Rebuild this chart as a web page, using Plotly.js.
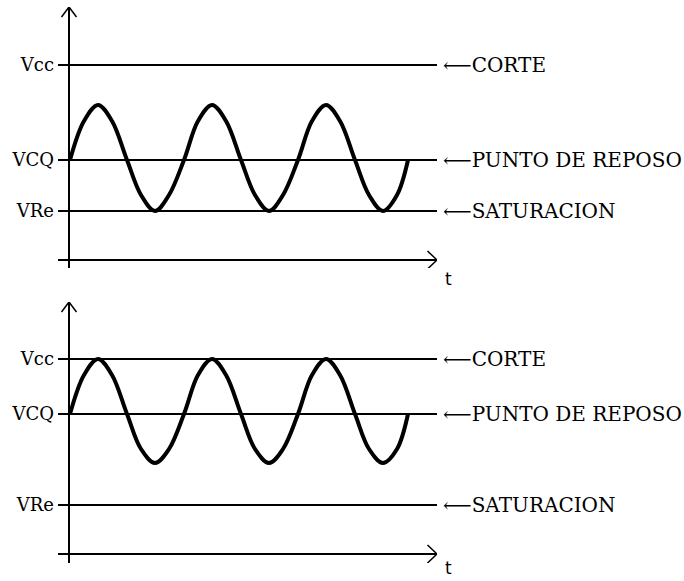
<!DOCTYPE html>
<html>
<head>
<meta charset="utf-8">
<script src="https://cdn.plot.ly/plotly-3.0.1.min.js"></script>
<style>html,body{margin:0;padding:0;background:#fff;}#chart{width:684px;height:581px;}</style>
</head>
<body>
<div id="chart"></div>
<script>
// ---- data (units: tenths of the drawing's pixel scale) ----
const levelLabels   = ['Vcc', 'VCQ', 'VRe'];
const stateLabels   = ['CORTE', 'PUNTO DE REPOSO', 'SATURACION'];
const topLevels     = [19.5, 10.0, 4.9];
const bottomLevels  = [19.5, 14.0, 4.9];
const waveT         = [0.1, 1.5, 2.9, 4.3, 5.8, 7.2, 8.6, 10.0, 11.5, 12.9, 14.3, 15.7, 17.2,
                       18.6, 20.0, 21.4, 22.9, 24.3, 25.7, 27.1, 28.6, 30.0, 31.4, 32.8, 33.9];
const topWave       = [10.0, 13.9, 15.5, 13.9, 10.0, 6.5, 4.9, 6.5, 10.0, 13.9, 15.5, 13.9, 10.0,
                       6.5, 4.9, 6.5, 10.0, 13.9, 15.5, 13.9, 10.0, 6.5, 4.9, 6.5, 10.0];
const bottomWave    = [14.0, 17.9, 19.5, 17.9, 14.0, 10.5, 9.1, 10.5, 14.0, 17.9, 19.5, 17.9, 14.0,
                       10.5, 9.1, 10.5, 14.0, 17.9, 19.5, 17.9, 14.0, 10.5, 9.1, 10.5, 14.0];
const timeLabel     = 't';

// ---- layout helpers ----
const W = 684, H = 581;
const serif = 'DejaVu Serif, serif';
const xRange = [-1.1, 36.8];
const xDomain = [58 / W, 437 / W];
const labelX = 441 / W;   // left edge of the state labels (paper fraction)
const tX = 448 / W;       // centre of the "t" label (paper fraction)
const panels = [
  {levels: topLevels,    wave: topWave,    yDomain: [(H - 268) / H, (H - 7) / H],   yRange: [-0.8, 25.3], tY: (H - 291) / H},
  {levels: bottomLevels, wave: bottomWave, yDomain: [(H - 563) / H, (H - 302) / H], yRange: [-0.9, 25.2], tY: 1 / H}
];

const traces = [];
const annotations = [];
const shapes = [];
const layout = {
  width: W, height: H,
  margin: {l: 0, r: 0, t: 0, b: 0},
  paper_bgcolor: '#fff', plot_bgcolor: 'rgba(0,0,0,0)',
  showlegend: false,
  annotations: annotations,
  shapes: shapes
};

panels.forEach((p, i) => {
  const sx = i === 0 ? '' : '2';
  const xa = 'x' + sx, ya = 'y' + sx;
  layout['xaxis' + sx] = {
    domain: xDomain, range: xRange, anchor: ya,
    showgrid: false, showticklabels: false, ticks: '', showline: false,
    zeroline: true, zerolinecolor: '#000', zerolinewidth: 1.5, fixedrange: true
  };
  layout['yaxis' + sx] = {
    domain: p.yDomain, range: p.yRange, anchor: xa,
    tickvals: p.levels, ticktext: levelLabels, ticks: '', ticklabelstandoff: 3,
    tickfont: {family: serif, size: 18, color: '#000'},
    showgrid: true, gridcolor: '#000', gridwidth: 1.5,
    zeroline: true, zerolinecolor: '#000', zerolinewidth: 1.5,
    showline: false, fixedrange: true
  };
  traces.push({
    x: waveT, y: p.wave, xaxis: xa, yaxis: ya, type: 'scatter', mode: 'lines',
    line: {color: '#000', width: 4, shape: 'spline', smoothing: 1}, hoverinfo: 'skip'
  });
  // axis arrow heads
  const yTop = p.yRange[1], xEnd = xRange[1];
  shapes.push({type: 'path', xref: xa, yref: ya,
    path: `M -0.75 ${yTop - 1} L 0 ${yTop} L 0.75 ${yTop - 1}`,
    line: {color: '#000', width: 1.5}});
  shapes.push({type: 'path', xref: xa, yref: ya,
    path: `M ${xEnd - 0.95} 0.9 L ${xEnd} 0 L ${xEnd - 0.95} -0.9`,
    line: {color: '#000', width: 1.5}});
  // state labels with arrows
  p.levels.forEach((lv, k) => {
    annotations.push({xref: 'paper', yref: ya, x: labelX, y: lv, xanchor: 'left', yanchor: 'middle',
      showarrow: false, text: '\u27F5' + stateLabels[k],
      font: {family: serif, size: 20, color: '#000'}});
  });
  annotations.push({xref: 'paper', yref: 'paper', x: tX, y: p.tY, xanchor: 'center', yanchor: 'bottom',
    showarrow: false, text: timeLabel, font: {family: 'DejaVu Sans, sans-serif', size: 17, color: '#000'}});
});

Plotly.newPlot('chart', traces, layout, {staticPlot: true, displayModeBar: false});
</script>
</body>
</html>
